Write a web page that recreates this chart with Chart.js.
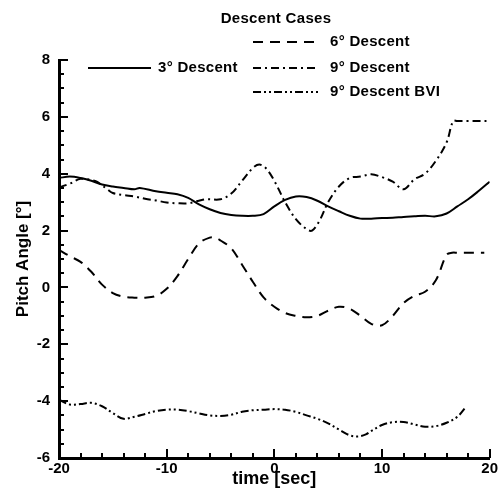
<!DOCTYPE html>
<html>
<head>
<meta charset="utf-8">
<script src="https://cdn.jsdelivr.net/npm/chart.js@4.4.1/dist/chart.umd.min.js"></script>
<style>
html,body{margin:0;padding:0;background:#fff;}
#wrap{width:500px;height:490px;position:relative;}
</style>
</head>
<body>
<div id="wrap"><canvas id="c" width="500" height="490"></canvas></div>
<script>
const legendTitle = "Descent Cases";
const seriesNames = ["3\u00B0 Descent", "6\u00B0 Descent", "9\u00B0 Descent", "9\u00B0 Descent BVI"];
const xTitle = "time [sec]";
const yTitle = "Pitch Angle [\u00B0]";

const t3 = [-20,-19,-18,-17,-16,-15,-14,-13,-12.5,-11,-10,-9,-8,-7,-6,-5,-4,-3,-2,-1,0,1,2,3,4,5,6,7,8,9,10,11,12,13,14,15,16,17,18,19,20];
const y3 = [3.85,3.9,3.85,3.75,3.62,3.55,3.5,3.45,3.5,3.38,3.33,3.28,3.15,2.92,2.75,2.62,2.55,2.52,2.52,2.58,2.85,3.08,3.2,3.18,3.05,2.85,2.68,2.52,2.42,2.42,2.44,2.45,2.48,2.5,2.52,2.5,2.6,2.85,3.1,3.4,3.72];

const t6 = [-20,-19,-18,-17,-16,-15,-14,-13,-12,-11,-10,-9,-8,-7,-6,-5.5,-5,-4,-3,-2,-1,0,1,2,3,4,5,6,7,8,9,10,11,12,13,14,15,16,16.5,17,18,19,19.5];
const y6 = [1.32,1.1,0.9,0.55,0.1,-0.2,-0.33,-0.36,-0.36,-0.3,-0.05,0.4,1.0,1.55,1.75,1.75,1.65,1.38,0.8,0.2,-0.35,-0.68,-0.9,-1.0,-1.05,-1.0,-0.82,-0.68,-0.75,-1.0,-1.28,-1.33,-1.0,-0.55,-0.3,-0.15,0.25,1.15,1.22,1.22,1.22,1.22,1.22];

const t9 = [-20,-19,-18,-17,-16.5,-15.5,-15,-14,-13,-12,-11,-10,-9,-8,-7,-6.3,-5,-4,-3,-2,-1.4,-0.8,0,1,2,3,3.5,4.2,5,6,7,8,9,10,11,12,13,14,15,16,16.6,17,18,19,20];
const y9 = [3.52,3.65,3.82,3.78,3.72,3.45,3.32,3.25,3.2,3.12,3.06,2.99,2.96,2.96,3.05,3.1,3.1,3.3,3.75,4.2,4.32,4.2,3.75,3.0,2.4,2.05,2.0,2.35,3.0,3.55,3.85,3.9,3.98,3.88,3.72,3.45,3.8,4.0,4.45,5.1,5.85,5.85,5.85,5.85,5.85];

const tB = [-20,-19,-18,-17,-16,-15,-14,-13,-12,-11,-10,-9,-8,-7,-6,-5,-4,-3,-2,-1,0,1,2,3,4,5,6,7,7.8,8.5,9,10,11,12,13,14,15,16,17,17.8];
const yB = [-3.95,-4.12,-4.1,-4.06,-4.18,-4.42,-4.62,-4.55,-4.45,-4.35,-4.3,-4.3,-4.35,-4.43,-4.5,-4.52,-4.48,-4.37,-4.32,-4.3,-4.28,-4.3,-4.38,-4.5,-4.62,-4.78,-5.0,-5.2,-5.24,-5.17,-5.05,-4.84,-4.74,-4.73,-4.82,-4.9,-4.88,-4.76,-4.55,-4.2];

const xMin = -20, xMax = 20, xStep = 10, xMinor = 2;
const yMin = -6, yMax = 8, yStep = 2, yMinor = 0.5;

function pts(t, y){ return t.map((v,i)=>({x:v, y:y[i]})); }

const dashes = [[], [10,7], [8,4,2,4], [8,3,2,3,2,3]];
const seriesT = [t3, t6, t9, tB];
const seriesY = [y3, y6, y9, yB];

const FONT = "'Liberation Sans', Arial, sans-serif";

const datasets = seriesNames.map((n,i)=>({
  label: n,
  data: pts(seriesT[i], seriesY[i]),
  borderColor: '#000',
  borderWidth: 2,
  borderDash: dashes[i],
  pointRadius: 0,
  fill: false,
  tension: 0.35
}));

const tickPlugin = {
  id: 'inwardTicks',
  afterDatasetsDraw(chart){
    const ctx = chart.ctx;
    const xs = chart.scales.x, ys = chart.scales.y;
    const ca = chart.chartArea;
    ctx.save();
    ctx.strokeStyle = '#000';
    ctx.lineWidth = 2;
    for (let v = xMin; v <= xMax + 1e-9; v += xMinor) {
      const px = Math.round(xs.getPixelForValue(v));
      const major = Math.abs(v % xStep) < 1e-9;
      const len = major ? 9 : 5;
      ctx.beginPath(); ctx.moveTo(px, ca.bottom); ctx.lineTo(px, ca.bottom - len); ctx.stroke();
    }
    for (let v = yMin; v <= yMax + 1e-9; v += yMinor) {
      const py = Math.round(ys.getPixelForValue(v));
      const major = Math.abs(((v - yMin) % yStep)) < 1e-9;
      const len = major ? 9 : 5;
      ctx.beginPath(); ctx.moveTo(ca.left, py); ctx.lineTo(ca.left + len, py); ctx.stroke();
    }
    ctx.restore();
  }
};

const legendPlugin = {
  id: 'customLegend',
  afterDraw(chart){
    const ctx = chart.ctx;
    const ds = chart.data.datasets;
    ctx.save();
    ctx.fillStyle = '#000';
    ctx.textBaseline = 'middle';
    ctx.font = "bold 15px " + FONT;
    try { ctx.letterSpacing = '0.3px'; } catch(e) {}
    ctx.textAlign = 'center';
    ctx.fillText(legendTitle, 276, 19);
    ctx.textAlign = 'left';
    const rows = [
      {i:0, x1:88, x2:151, tx:158, y:68},
      {i:1, x1:253, x2:318, tx:330, y:42},
      {i:2, x1:253, x2:318, tx:330, y:68},
      {i:3, x1:253, x2:318, tx:330, y:92}
    ];
    rows.forEach(r=>{
      ctx.strokeStyle = '#000';
      ctx.lineWidth = 2;
      ctx.setLineDash(ds[r.i].borderDash);
      ctx.beginPath(); ctx.moveTo(r.x1, r.y); ctx.lineTo(r.x2, r.y); ctx.stroke();
      ctx.setLineDash([]);
      ctx.fillText(ds[r.i].label, r.tx, r.y);
    });
    ctx.restore();
  }
};

new Chart(document.getElementById('c'), {
  type: 'line',
  data: { datasets },
  options: {
    responsive: false,
    animation: false,
    devicePixelRatio: 1,
    layout: { padding: { top: 60, right: 10, left: 0, bottom: 0 } },
    plugins: { legend: { display: false }, tooltip: { enabled: false } },
    scales: {
      x: {
        type: 'linear', min: xMin, max: xMax,
        grid: { display: false, drawTicks: false },
        border: { display: true, color: '#000', width: 3 },
        ticks: { stepSize: xStep, color: '#000', font: { family: FONT, size: 15, weight: 'bold' }, padding: 2, maxRotation: 0 },
        title: { display: true, text: xTitle, color: '#000', font: { family: FONT, size: 18, weight: 'bold' }, padding: { top: 0, bottom: 0 } },
        afterFit(s){ s.height = 32; }
      },
      y: {
        type: 'linear', min: yMin, max: yMax,
        grid: { display: false, drawTicks: false },
        border: { display: true, color: '#000', width: 3 },
        ticks: { stepSize: yStep, color: '#000', font: { family: FONT, size: 15, weight: 'bold' }, padding: 9 },
        title: { display: true, text: yTitle, color: '#000', font: { family: FONT, size: 17, weight: 'bold' }, padding: { top: 13, bottom: 0 } },
        afterFit(s){ s.width = 59; }
      }
    }
  },
  plugins: [tickPlugin, legendPlugin]
});
</script>
</body>
</html>
